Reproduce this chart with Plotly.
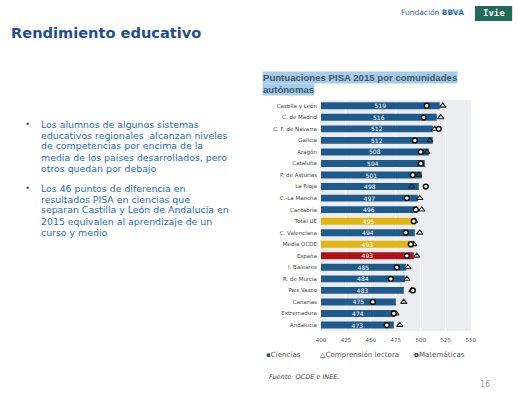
import plotly.graph_objects as go

regions = ["Castilla y León", "C. de Madrid", "C. F. de Navarra", "Galicia", "Aragón",
           "Cataluña", "P. de Asturias", "La Rioja", "C.-La Mancha", "Cantabria",
           "Total UE", "C. Valenciana", "Media OCDE", "España", "I. Baleares",
           "R. de Murcia", "País Vasco", "Canarias", "Extremadura", "Andalucía"]
ciencias = [519, 516, 512, 512, 508, 504, 501, 498, 497, 496,
            495, 494, 493, 493, 485, 484, 483, 475, 474, 473]
lectora = [522, 520, 514, 509, 506, 500, 498, 491, 499, 501,
           494, 499, 493, 496, 487, 486, 491, 483, 475, 479]
matematicas = [506, 503, 518, 494, 500, 500, 492, 505, 486, 495,
               493, 485, 490, 486, 476, 470, 492, 452, 473, 466]
x_ticks = [400, 425, 450, 475, 500, 525, 550]
AXIS_MIN = 400

BLUE = "#1F5A8C"
YELLOW = "#E3B512"
RED = "#B01116"
bar_colors = [YELLOW if r in ("Total UE", "Media OCDE") else RED if r == "España" else BLUE
              for r in regions]

W, H = 525, 398
def px(x):
    return x / W
def py(y):
    return 1 - y / H

fig = go.Figure()
fig.add_trace(go.Bar(
    y=regions, x=[v - AXIS_MIN for v in ciencias], base=AXIS_MIN, orientation="h",
    marker=dict(color=bar_colors, line=dict(width=0)),
    text=[str(v) for v in ciencias], textposition="inside", insidetextanchor="middle",
    textangle=0, textfont=dict(family="DejaVu Sans", size=6, color="white"),
    name="Ciencias", showlegend=False, width=0.6,
))
fig.add_trace(go.Scatter(
    y=regions, x=lectora, mode="markers", name="Comprensión lectora",
    marker=dict(symbol="triangle-up-open", size=5.5, color="#222222", line=dict(width=1.1)),
    showlegend=False,
))
fig.add_trace(go.Scatter(
    y=regions, x=matematicas, mode="markers", name="Matemáticas",
    marker=dict(symbol="circle", size=4.8, color="white", line=dict(width=1.5, color="#111111")),
    showlegend=False,
))

fig.update_layout(
    width=W, height=H, autosize=False,
    margin=dict(l=0, r=0, t=0, b=0),
    paper_bgcolor="white", plot_bgcolor="#ECEDF0",
    bargap=0.4,
    xaxis=dict(domain=[px(322.7), px(475.7)], range=[400, 550], tickvals=x_ticks,
               showgrid=True, gridcolor="white", gridwidth=1, zeroline=False,
               tickfont=dict(family="DejaVu Sans", size=5.5, color="#555555"),
               ticks="", showline=False, ticklabelstandoff=5),
    yaxis=dict(domain=[py(330.8), py(100)], range=[19.5, -0.5], showgrid=False,
               tickfont=dict(family="DejaVu Sans", size=5.5, color="#444444"),
               ticks="", ticklabelstandoff=3),
    font=dict(family="DejaVu Sans"),
)

ann = []
# Main title
ann.append(dict(x=px(5), y=py(32), xref="paper", yref="paper", xanchor="left", yanchor="middle",
                text="<b>Rendimiento educativo</b>", showarrow=False, borderpad=0,
                font=dict(family="DejaVu Sans", size=14.6, color="#1F4E96")))
# Logos
ann.append(dict(x=px(471), y=py(13), xref="paper", yref="paper", xanchor="right", yanchor="middle",
                text="Fundación <b>BBVA</b>", showarrow=False,
                font=dict(family="DejaVu Sans", size=7.5, color="#2F6DB5")))
fig.add_shape(type="rect", xref="paper", yref="paper", x0=px(480), x1=px(518), y0=py(21), y1=py(6),
              fillcolor="#1E6B58", line=dict(width=0))
ann.append(dict(x=px(499), y=py(13.5), xref="paper", yref="paper", xanchor="center", yanchor="middle",
                text="<b>Ivie</b>", showarrow=False,
                font=dict(family="DejaVu Sans Mono", size=9, color="white")))
# Chart title (highlighted)
ann.append(dict(x=px(262), y=py(78), xref="paper", yref="paper", xanchor="left", yanchor="middle",
                text="<b>Puntuaciones PISA 2015 por comunidades</b>", showarrow=False,
                bgcolor="#A7CBEB", borderpad=0,
                font=dict(family="Liberation Sans", size=9.6, color="#3C5A68")))
ann.append(dict(x=px(262), y=py(89), xref="paper", yref="paper", xanchor="left", yanchor="middle",
                text="<b>autónomas</b>", showarrow=False,
                bgcolor="#A7CBEB", borderpad=0,
                font=dict(family="Liberation Sans", size=9.6, color="#3C5A68")))
# Bullets
TXT = "#1F6CC4"
b1 = ["Los alumnos de algunos sistemas",
      "educativos regionales  alcanzan niveles",
      "de competencias por encima de la",
      "media de los países desarrollados, pero",
      "otros quedan por debajo"]
b2 = ["Los 46 puntos de diferencia en",
      "resultados PISA en ciencias que",
      "separan Castilla y León de Andalucía en",
      "2015 equivalen al aprendizaje de un",
      "curso y medio"]
for lines, y0 in ((b1, 124), (b2, 188)):
    ann.append(dict(x=px(19), y=py(y0), xref="paper", yref="paper", xanchor="left", yanchor="middle",
                    text="•", showarrow=False, borderpad=0,
                    font=dict(family="DejaVu Sans", size=9, color=TXT)))
    for i, line in enumerate(lines):
        ann.append(dict(x=px(36), y=py(y0 + i * 11), xref="paper", yref="paper",
                        xanchor="left", yanchor="middle", text=line, showarrow=False, borderpad=0,
                        font=dict(family="DejaVu Sans", size=9.4, color=TXT)))
# Legend
LEG = dict(family="DejaVu Sans", size=7.1, color="#555555")
ann.append(dict(x=px(265), y=py(354), xref="paper", yref="paper", xanchor="left", yanchor="middle",
                text=f"<span style='color:{BLUE}'>▪</span>Ciencias", showarrow=False, font=LEG))
ann.append(dict(x=px(320), y=py(354), xref="paper", yref="paper", xanchor="left", yanchor="middle",
                text="<span style='color:#222222'>△</span>Comprensión lectora", showarrow=False, font=LEG))
ann.append(dict(x=px(416), y=py(354), xref="paper", yref="paper", xanchor="left", yanchor="middle",
                text="<b><span style='color:#222222'>o</span></b>Matemáticas", showarrow=False, font=LEG))
# Source & page
ann.append(dict(x=px(268), y=py(377), xref="paper", yref="paper", xanchor="left", yanchor="middle",
                text="<i>Fuente: OCDE e INEE.</i>", showarrow=False,
                font=dict(family="DejaVu Sans", size=6.5, color="#444444")))
ann.append(dict(x=px(497), y=py(384), xref="paper", yref="paper", xanchor="right", yanchor="middle",
                text="16", showarrow=False,
                font=dict(family="DejaVu Sans", size=8, color="#A0A0A0")))

fig.update_layout(annotations=ann, uniformtext=dict(mode="show", minsize=6))
fig.write_html("out.html", config={"displayModeBar": False},
               post_script="document.body.style.margin='0';document.body.style.overflow='hidden';")
